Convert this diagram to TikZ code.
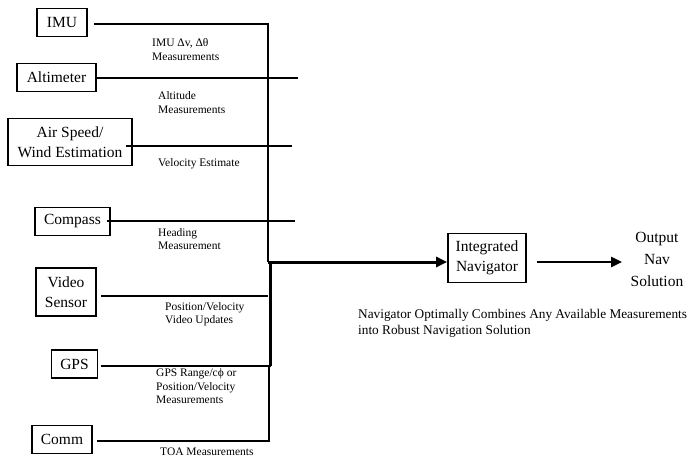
\documentclass[tikz,border=0pt]{standalone}
\usepackage{fontspec}
\setmainfont{Liberation Serif}
\usetikzlibrary{arrows.meta}

\begin{document}
\begin{tikzpicture}[x=1pt,y=-1pt]
\tikzstyle{every node}+=[inner sep=0pt]
\tikzstyle{sensor}=[draw=black, line width=1.7pt, minimum height=28pt, align=center, font=\fontsize{15.5}{19.5}\selectfont]
\tikzstyle{meas}=[anchor=west, align=left, font=\fontsize{11.5}{13.5}\selectfont]
\tikzstyle{feed}=[black, line width=1.3pt]
\tikzstyle{bus}=[black, line width=3pt]
\tikzstyle{tip}=[-{Triangle[length=11pt,width=10pt]}]
\useasboundingbox (0,0) rectangle (694,460);
% sensor boxes
\node [sensor, minimum width=50pt] (imu) at (62,22.5) {IMU};
\node [sensor, minimum width=79pt] (alt) at (56.5,77.5) {Altimeter};
\node [sensor, minimum width=124pt, minimum height=47pt] (air) at (70,142) {Air Speed/\\Wind Estimation};
\node [sensor, minimum width=75pt] (cmp) at (72.5,221.5) {Compass};
\node [sensor, minimum width=60pt, minimum height=48pt] (vid) at (66,292) {Video\\Sensor};
\node [sensor, minimum width=46pt] (gps) at (74.5,364) {GPS};
\node [sensor, minimum width=60pt] (com) at (62,439.5) {Comm};
% navigator and output
\node [sensor, minimum width=78pt, minimum height=49pt] (nav) at (487,258) {Integrated\\Navigator};
\node [align=center, font=\fontsize{15.5}{22}\selectfont] (out) at (657,259) {Output\\Nav\\Solution};
\node [anchor=west, align=left, font=\fontsize{13.3}{16.5}\selectfont] (note) at (358,323.5) {Navigator Optimally Combines Any Available Measurements\\into Robust Navigation Solution};
% measurement labels
\node [meas] (limu) at (152,49.5) {IMU Δv, Δθ\\Measurements};
\node [meas] (lalt) at (158,102.5) {Altitude\\Measurements};
\node [meas] (lair) at (158,164) {Velocity Estimate};
\node [meas] (lcmp) at (158,239) {Heading\\Measurement};
\node [meas] (lvid) at (165,314) {Position/Velocity\\Video Updates};
\node [meas] (lgps) at (156,386.5) {GPS Range/cϕ or\\Position/Velocity\\Measurements};
\node [meas] (lcom) at (160,452) {TOA Measurements};
% bus points and free ends
\coordinate (b1) at (268,24);
\coordinate (b2) at (268,262);
\coordinate (b3) at (270.5,262);
\coordinate (b4) at (270.5,366);
\coordinate (b5) at (269,441);
\coordinate (altend) at (298,78);
\coordinate (airend) at (292,146);
\coordinate (cmpend) at (295,221);
\coordinate (vidend) at (268,296);
\coordinate (otip) at (622,262);
% feeds
\draw [feed] ([xshift=6pt]imu.east |- b1) -- (b1) -- (b2);
\draw [feed] (alt.east |- altend) -- (altend);
\draw [feed] ([xshift=-7pt]air.east |- airend) -- (airend);
\draw [feed] ([xshift=-4pt]cmp.east |- cmpend) -- (cmpend);
\draw [feed] ([xshift=4pt]vid.east |- vidend) -- (vidend);
\draw [feed] ([xshift=3pt]gps.east |- b4) -- (b4);
\draw [feed] ([xshift=4pt]com.east |- b5) -- (b5) -- (b5 |- b4);
\draw [bus] (b3) -- (b4);
\draw [bus, tip] (b2) -- (nav.west |- b2);
\draw [black, line width=2.5pt, tip] ([xshift=10pt]nav.east |- otip) -- (otip);
\end{tikzpicture}
\end{document}
